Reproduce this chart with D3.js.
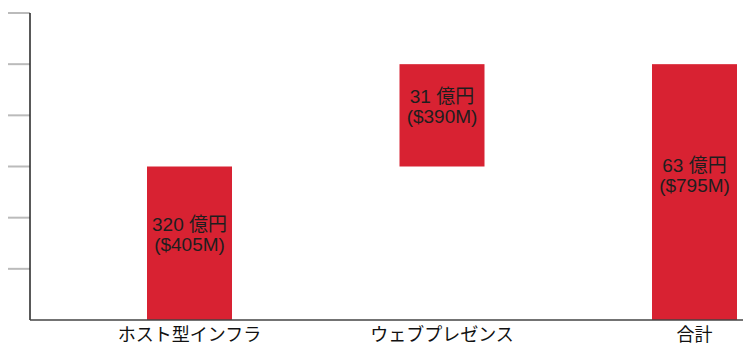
<!DOCTYPE html>
<html>
<head>
<meta charset="utf-8">
<script src="https://cdn.jsdelivr.net/npm/d3@7"></script>
<style>
  body { margin: 0; background: #fff; }
  text { font-family: "Liberation Sans", "Noto Sans CJK JP", sans-serif; }
</style>
</head>
<body>
<div id="chart"></div>
<script>
var categories = ["ホスト型インフラ", "ウェブプレゼンス", "合計"]
var starts = [0, 150, 0]
var ends = [150, 250, 250]
var labelTop = ["320 億円", "31 億円", "63 億円"]
var labelBottom = ["($405M)", "($390M)", "($795M)"]
var yTicks = [0, 50, 100, 150, 200, 250, 300]

var W = 743, H = 348
var margin = { top: 13, bottom: 28, left: 30, right: 0 }
var height = H - margin.top - margin.bottom

var svg = d3.select("#chart")
  .append("svg")
  .attr("width", W)
  .attr("height", H)

var y = d3.scaleLinear()
  .domain([0, 300])
  .range([margin.top + height, margin.top])

var x = d3.scalePoint()
  .domain(categories)
  .range([189.5, 694.5])
var barW = 85

// tick marks on the left
svg.append("g")
  .selectAll("line")
  .data(yTicks.slice(1))
  .enter()
  .append("line")
  .attr("x1", 8)
  .attr("x2", margin.left)
  .attr("y1", function(d) { return y(d) })
  .attr("y2", function(d) { return y(d) })
  .attr("stroke", "#bbbbbb")
  .attr("stroke-width", 2)

var bars = categories.map(function(c, i) {
  return { cat: c, s: starts[i], e: ends[i], t1: labelTop[i], t2: labelBottom[i], total: i == categories.length - 1 }
})

svg.append("g")
  .selectAll("rect")
  .data(bars)
  .enter()
  .append("rect")
  .attr("x", function(d) { return x(d.cat) - barW / 2 })
  .attr("y", function(d) { return y(d.e) })
  .attr("width", barW)
  .attr("height", function(d) { return y(d.s) - y(d.e) })
  .attr("fill", "#d82232")

// axes lines
svg.append("line")
  .attr("x1", margin.left).attr("x2", margin.left)
  .attr("y1", y(300)).attr("y2", y(0))
  .attr("stroke", "#222").attr("stroke-width", 1.5)
svg.append("line")
  .attr("x1", margin.left).attr("x2", W)
  .attr("y1", y(0)).attr("y2", y(0))
  .attr("stroke", "#444").attr("stroke-width", 1.5)

var lbl = svg.append("g")
  .selectAll("text")
  .data(bars)
  .enter()
  .append("text")
  .attr("text-anchor", "middle")
  .attr("font-size", 19)
  .attr("fill", "#1e1e1e")
  .attr("x", function(d) { return x(d.cat) })
  .attr("y", function(d) { return (y(d.s) + y(d.e)) / 2 - (d.total ? 20 : 12) })
lbl.append("tspan")
  .attr("x", function(d) { return x(d.cat) })
  .text(function(d) { return d.t1 })
lbl.append("tspan")
  .attr("x", function(d) { return x(d.cat) })
  .attr("dy", 20)
  .text(function(d) { return d.t2 })

svg.append("g")
  .selectAll("text")
  .data(categories)
  .enter()
  .append("text")
  .attr("text-anchor", "middle")
  .attr("font-size", 18)
  .attr("fill", "#111")
  .attr("x", function(d) { return x(d) })
  .attr("y", 341)
  .text(function(d) { return d })
</script>
</body>
</html>
